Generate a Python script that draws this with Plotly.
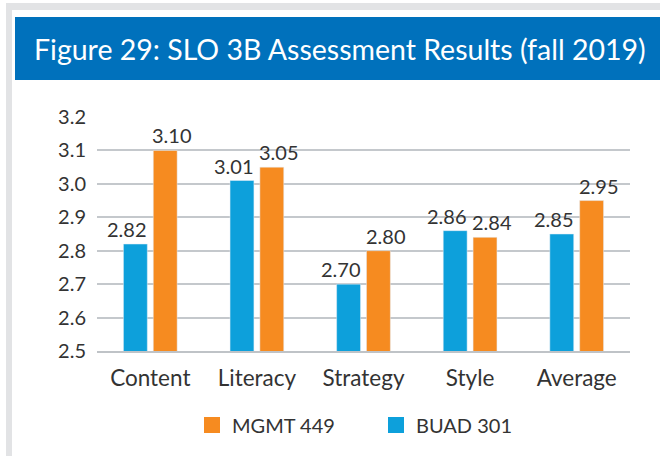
import plotly.graph_objects as go

categories = ["Content", "Literacy", "Strategy", "Style", "Average"]
buad_301 = [2.82, 3.01, 2.70, 2.86, 2.85]
mgmt_449 = [3.10, 3.05, 2.80, 2.84, 2.95]
title_text = "Figure 29: SLO 3B Assessment Results (fall 2019)"

BLUE = "#0DA0DB"
ORANGE = "#F68B20"
TXT = "#333333"
FONT = "Lato"

W, H = 660, 456
L, R, T, B = 97, 30, 117, 105
PW, PH = W - L - R, H - T - B

def px(x):
    return (x - L) / PW

def py(y):
    return (H - B - y) / PH

fig = go.Figure()
fig.add_trace(go.Bar(
    x=categories, y=buad_301, name="BUAD 301", marker_color=BLUE, showlegend=False,
))
fig.add_trace(go.Bar(
    x=categories, y=mgmt_449, name="MGMT 449", marker_color=ORANGE, showlegend=False,
))
# legend entries with larger square swatches
fig.add_trace(go.Scatter(x=[None], y=[None], mode="markers", name="BUAD 301",
                         marker=dict(symbol="square", size=20, color=BLUE)))
fig.add_trace(go.Scatter(x=[None], y=[None], mode="markers", name="MGMT 449",
                         marker=dict(symbol="square", size=20, color=ORANGE)))

shapes = [
    dict(type="rect", xref="paper", yref="paper", x0=px(6), x1=px(12), y0=py(456), y1=py(3),
         fillcolor="#E2E3E5", line_width=0, layer="below"),
    dict(type="rect", xref="paper", yref="paper", x0=px(6), x1=px(660), y0=py(10), y1=py(3),
         fillcolor="#E2E3E5", line_width=0, layer="below"),
    dict(type="rect", xref="paper", yref="paper", x0=px(15), x1=px(660), y0=py(80), y1=py(17),
         fillcolor="#0071BC", line_width=0, layer="below"),
]

annotations = [dict(text=title_text, xref="paper", yref="paper", x=px(32), y=py(49),
                    xanchor="left", yanchor="middle", showarrow=False,
                    font=dict(size=28.5, color="white", family=FONT))]
# value labels above bars (pushed slightly apart, as in the original)
for series, xs in ((buad_301, -23), (mgmt_449, 22)):
    for c, v in zip(categories, series):
        annotations.append(dict(text=f"{v:.2f}", x=c, y=v, xref="x", yref="y",
                                xshift=xs, yshift=1, xanchor="center", yanchor="bottom",
                                showarrow=False, font=dict(size=20, color=TXT, family=FONT)))

fig.update_layout(
    width=W, height=H,
    margin=dict(l=L, r=R, t=T, b=B, autoexpand=False),
    paper_bgcolor="white", plot_bgcolor="white",
    barmode="group", bargap=0.44, bargroupgap=0.2,
    font=dict(family=FONT, color=TXT, size=18),
    shapes=shapes,
    showlegend=True,
    legend=dict(orientation="h", traceorder="reversed", x=px(192), xanchor="left",
                y=py(425), yanchor="middle", font=dict(size=20, color=TXT, family=FONT),
                itemsizing="trace", entrywidth=139, entrywidthmode="pixels"),
    annotations=annotations,
)
fig.update_xaxes(showgrid=False, showline=True, linecolor="#BFC3C7", linewidth=2,
                 tickfont=dict(size=22.5, color=TXT, family=FONT), ticks="", ticklabelstandoff=6)
fig.update_yaxes(range=[2.5, 3.2], dtick=0.1, tickformat=".1f", showgrid=True,
                 gridcolor="#C4C8CC", gridwidth=1.5, zeroline=False, showline=False,
                 tickfont=dict(size=20, color=TXT, family=FONT), ticks="", ticklabelstandoff=10)

fig.write_html("out.html", config={"displayModeBar": False},
               post_script="document.body.style.margin='0';document.body.style.padding='0';")
